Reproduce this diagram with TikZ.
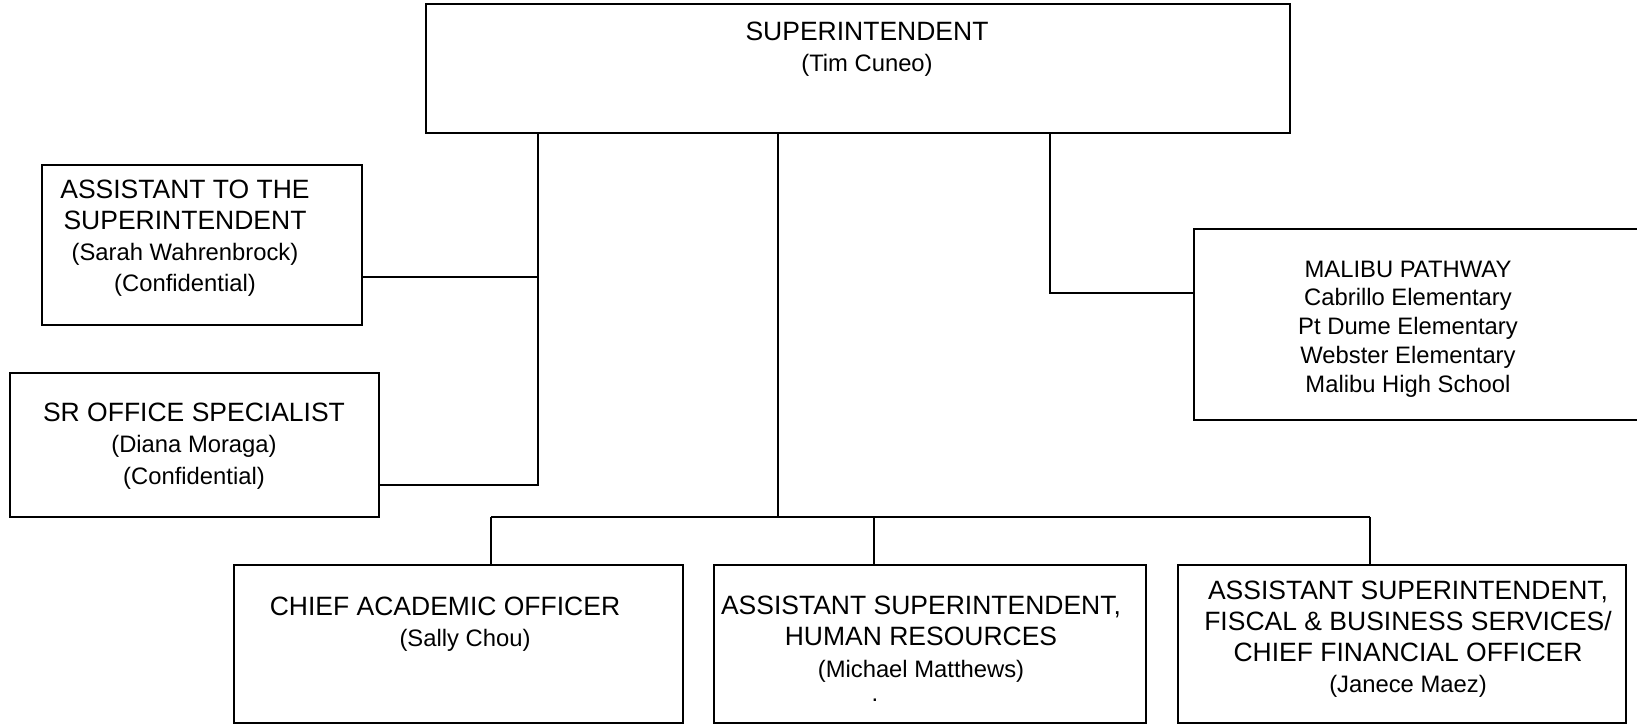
\documentclass[tikz,border=0pt]{standalone}
\usepackage{fontspec}
\setmainfont{Liberation Sans}
\newcommand{\who}[1]{{\fontsize{11.9}{15.6}\selectfont #1}}
\tikzset{
  box/.style={draw, line width=0.75pt, inner sep=0pt},
  txt/.style={align=center, inner sep=0pt, font=\fontsize{13.25}{15.6}\selectfont},
  list/.style={align=center, inner sep=0pt, font=\fontsize{11.9}{14.4}\selectfont},
  link/.style={line width=0.75pt}
}
\begin{document}
\begin{tikzpicture}[x=0.5pt,y=-0.5pt]
\useasboundingbox (0,0) rectangle (1637,725);
% boxes
\node[box, minimum width=432pt, minimum height=64.5pt] (sup) at (858,68.5) {};
\node[box, minimum width=160pt, minimum height=80pt] (asst) at (202,245) {};
\node[box, minimum width=184.5pt, minimum height=72pt] (sr) at (194.5,445) {};
\node[box, minimum width=243pt, minimum height=95.5pt] (mal) at (1437,324.5) {};
\node[box, minimum width=224.5pt, minimum height=79pt] (cao) at (458.5,644) {};
\node[box, minimum width=216pt, minimum height=79pt] (hr) at (930,644) {};
\node[box, minimum width=224pt, minimum height=79pt] (cfo) at (1402,644) {};
% texts
\node[txt] (sup-t) at (867,49) {SUPERINTENDENT\\ \who{(Tim Cuneo)}};
\node[txt] (asst-t) at (185,238) {ASSISTANT TO THE\\ SUPERINTENDENT\\ \who{(Sarah Wahrenbrock)}\\ \who{(Confidential)}};
\node[txt] (sr-t) at (194,446) {SR OFFICE SPECIALIST\\ \who{(Diana Moraga)}\\ \who{(Confidential)}};
\node[list] (mal-t) at (1408,329) {MALIBU PATHWAY\\ Cabrillo Elementary\\ Pt Dume Elementary\\ Webster Elementary\\ Malibu High School};
\node[txt] (cao-t) at (445,624) {CHIEF ACADEMIC OFFICER\\ \hspace*{20pt}\who{(Sally Chou)}};
\node[txt] (hr-t) at (921,639) {ASSISTANT SUPERINTENDENT,\\ HUMAN RESOURCES\\ \who{(Michael Matthews)}};
\node[txt, anchor=base] (hr-dot) at (875,701) {\who{.}};
\node[txt] (cfo-t) at (1408,639) {ASSISTANT SUPERINTENDENT,\\ FISCAL \& BUSINESS SERVICES/\\ CHIEF FINANCIAL OFFICER\\ \who{(Janece Maez)}};
% connectors
\coordinate (jl) at (538,485);
\coordinate (ja) at (538,277);
\coordinate (jm) at (1050,293);
\coordinate (bus) at (778,517);
\coordinate (bl) at (491,517);
\coordinate (bh) at (874,517);
\coordinate (br) at (1370,517);
\draw[link] (sup.south -| jl)--(jl)--(sr.east |- jl);
\draw[link] (asst.east |- ja)--(ja);
\draw[link] (sup.south -| jm)--(jm)--(mal.west |- jm);
\draw[link] (sup.south -| bus)--(bus);
\draw[link] (bl)--(br);
\draw[link] (bl)--(cao.north -| bl);
\draw[link] (bh)--(hr.north -| bh);
\draw[link] (br)--(cfo.north -| br);
\end{tikzpicture}
\end{document}
